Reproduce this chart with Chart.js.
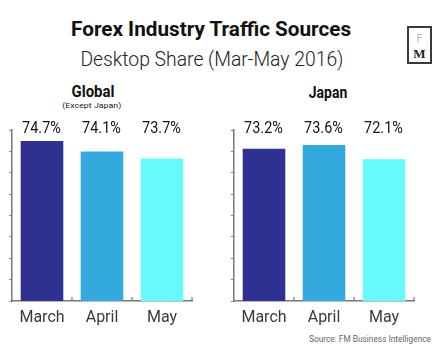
<!DOCTYPE html>
<html><head><meta charset="utf-8">
<script src="https://cdn.jsdelivr.net/npm/chart.js@4.4.1/dist/chart.umd.min.js"></script>
<style>
html,body{margin:0;padding:0;background:#fff;}
body{width:444px;height:347px;position:relative;overflow:hidden;font-family:Roboto,"DejaVu Sans",sans-serif;}
.t{position:absolute;white-space:nowrap;line-height:1;}
.cv{position:absolute;top:0;width:222px;height:347px;}
#logo{position:absolute;left:407px;top:26px;width:21px;height:34px;border:2px solid #3a3a3a;}
#logo .f{position:absolute;left:0;width:21px;top:5px;text-align:center;font-family:Roboto,sans-serif;font-weight:300;font-size:10px;color:#888;}
#logo .m{position:absolute;left:0;width:21px;top:18px;text-align:center;font-family:"Liberation Serif",serif;font-weight:bold;font-size:13px;color:#222;}
</style></head>
<body>
<div class="t" id="title" data-cx="211" data-w="280" style="top:19px;font-size:21px;font-weight:bold;color:#111;">Forex Industry Traffic Sources</div>
<div class="t" id="sub" data-cx="211.5" data-w="263" style="top:49px;font-size:21px;font-weight:300;color:#222;">Desktop Share (Mar-May 2016)</div>
<div id="logo"><div class="f">F</div><div class="m">M</div></div>
<div class="t" data-cx="92.5" data-w="43" style="top:84px;font-size:16px;font-weight:bold;color:#111;">Global</div>
<div class="t" data-cx="92.2" data-w="59" style="top:101.5px;font-size:8px;color:#222;">(Except Japan)</div>
<div class="t" data-cx="328.5" data-w="38.4" style="top:84.5px;font-size:16px;font-weight:bold;color:#111;">Japan</div>
<div class="t" data-cx="370.3" data-w="122" style="top:334.5px;font-size:9px;color:#666;">Source: FM Business Intelligence</div>
<canvas id="c1" class="cv" style="left:0" width="222" height="347"></canvas>
<canvas id="c2" class="cv" style="left:222px" width="222" height="347"></canvas>
<script>
// ---- data ----
const months = ["March", "April", "May"];
const globalShare = [74.7, 74.1, 73.7];
const japanShare = [73.2, 73.6, 72.1];
const barColors = ["#2e3190", "#33a9dd", "#66fafc"];
// axis ranges (chart is not drawn from zero)
const globalRange = [65.52, 75.33];
const japanRange = [57.08, 75.2];

// fit HTML text widths
document.querySelectorAll('.t').forEach(el => {
  const w = el.getBoundingClientRect().width;
  const tw = parseFloat(el.dataset.w), cx = parseFloat(el.dataset.cx);
  const s = tw / w;
  el.style.left = (cx - w / 2) + 'px';
  el.style.transform = 'scaleX(' + s + ')';
  el.style.transformOrigin = 'center';
});

const decor = {
  id: 'decor',
  afterDatasetsDraw(chart) {
    const ctx = chart.ctx, ca = chart.chartArea, xs = chart.scales.x;
    ctx.save();
    // upward tick marks at category boundaries
    ctx.strokeStyle = '#777'; ctx.lineWidth = 1.2;
    const n = chart.data.labels.length;
    for (let i = 1; i <= n; i++) {
      const px = i < n ? (xs.getPixelForValue(i - 1) + xs.getPixelForValue(i)) / 2 : xs.right;
      ctx.beginPath(); ctx.moveTo(px, ca.bottom); ctx.lineTo(px, ca.bottom - 4); ctx.stroke();
    }
    // value labels
    const meta = chart.getDatasetMeta(0);
    const vals = chart.data.datasets[0].data;
    ctx.fillStyle = '#141414';
    ctx.font = '17px Roboto, sans-serif';
    ctx.textAlign = 'center'; ctx.textBaseline = 'alphabetic';
    meta.data.forEach((bar, i) => {
      ctx.save();
      ctx.translate(bar.x - 0.5, ca.top + 2.7);
      ctx.scale(0.85, 1);
      ctx.fillText(vals[i].toFixed(1) + '%', 0, 0);
      ctx.restore();
    });
    ctx.restore();
  }
};

function make(id, data, range) {
  return new Chart(document.getElementById(id), {
    type: 'bar',
    data: { labels: months, datasets: [{ data: data, backgroundColor: barColors, borderWidth: 0,
      barPercentage: 0.71, categoryPercentage: 1.0 }] },
    options: {
      responsive: false, animation: false, devicePixelRatio: 1,
      layout: { padding: { left: 9, right: 30, top: 130, bottom: 12 } },
      plugins: { legend: { display: false }, tooltip: { enabled: false } },
      scales: {
        x: {
          grid: { drawOnChartArea: false, drawTicks: false },
          border: { display: true, color: '#777', width: 1.5 },
          ticks: { padding: 7.4, color: '#3a3a3a', font: { family: 'Roboto', size: 16 } }
        },
        y: {
          min: range[0], max: range[1],
          ticks: { display: false, count: 9 },
          grid: { drawOnChartArea: false, drawTicks: true, tickLength: 3, color: '#888', lineWidth: 1 },
          border: { display: true, color: '#777', width: 1.5 }
        }
      }
    },
    plugins: [decor]
  });
}
make('c1', globalShare, globalRange);
make('c2', japanShare, japanRange);
</script>
</body></html>
